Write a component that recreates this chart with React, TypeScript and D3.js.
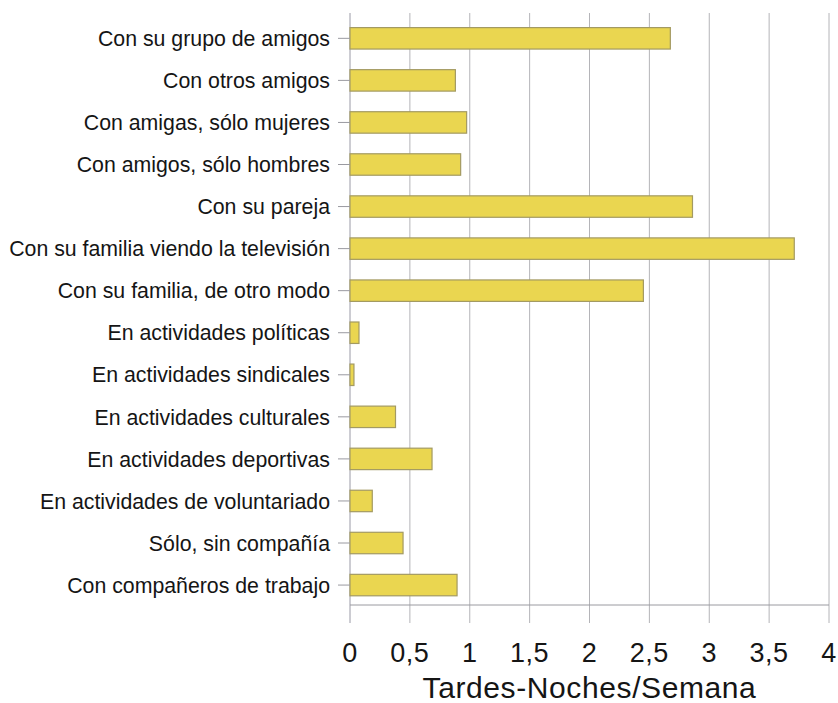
import React from "react";
import * as d3 from "d3";

const categories: string[] = [
  "Con su grupo de amigos",
  "Con otros amigos",
  "Con amigas, sólo mujeres",
  "Con amigos, sólo hombres",
  "Con su pareja",
  "Con su familia viendo la televisión",
  "Con su familia, de otro modo",
  "En actividades políticas",
  "En actividades sindicales",
  "En actividades culturales",
  "En actividades deportivas",
  "En actividades de voluntariado",
  "Sólo, sin compañía",
  "Con compañeros de trabajo",
];

const values: number[] = [
  2.675, 0.88, 0.974, 0.924, 2.86, 3.71, 2.45, 0.075, 0.033, 0.38, 0.685, 0.186, 0.443, 0.894,
];

const xTicks: number[] = [0, 0.5, 1, 1.5, 2, 2.5, 3, 3.5, 4];
const xTitle = "Tardes-Noches/Semana";

const W = 838;
const H = 703;
const FONT = "'Liberation Sans', Arial, Helvetica, sans-serif";

export default function App() {
  const x = d3.scaleLinear().domain([0, 4]).range([350, 829]);
  const y = d3
    .scaleBand<string>()
    .domain(categories)
    .range([17.3, 606.1])
    .paddingInner(0.49)
    .paddingOuter(0.245);

  const axisY = 605;
  const fmt = (v: number) => String(v).replace(".", ",");

  return (
    <svg
      width={W}
      height={H}
      style={{ position: "absolute", left: 0, top: 0, background: "#fff" }}
      fontFamily={FONT}
    >
      <rect x={0} y={0} width={W} height={H} fill="#fff" />
      {xTicks.map((t) => (
        <line
          key={"g" + t}
          x1={x(t)}
          x2={x(t)}
          y1={13}
          y2={623}
          stroke={t === 0 ? "#9a9aa6" : "#b4b4b8"}
          strokeWidth={1}
        />
      ))}
      <line x1={x(0)} x2={x(4)} y1={axisY} y2={axisY} stroke="#9a9aa0" strokeWidth={1} />
      {categories.map((c, i) => (
        <rect
          key={"b" + c}
          x={x(0)}
          y={y(c)!}
          width={x(values[i]) - x(0)}
          height={y.bandwidth()}
          fill="#ead650"
          stroke="#a39a62"
          strokeWidth={1.2}
        />
      ))}
      {categories.map((c) => {
        const cy = y(c)! + y.bandwidth() / 2;
        return (
          <g key={"l" + c}>
            <line x1={338} x2={350} y1={cy} y2={cy} stroke="#9a9aa0" strokeWidth={1} />
            <text
              x={330}
              y={cy}
              dy="0.36em"
              textAnchor="end"
              fontSize={21.3}
              fill="#151515"
            >
              {c}
            </text>
          </g>
        );
      })}
      {xTicks.map((t) => (
        <text
          key={"t" + t}
          x={x(t)}
          y={662}
          textAnchor="middle"
          fontSize={27}
          letterSpacing={0.5}
          fill="#151515"
        >
          {fmt(t)}
        </text>
      ))}
      <text
        x={(x(0) + x(4)) / 2}
        y={698}
        textAnchor="middle"
        fontSize={30}
        letterSpacing={0.6}
        fill="#151515"
      >
        {xTitle}
      </text>
    </svg>
  );
}
